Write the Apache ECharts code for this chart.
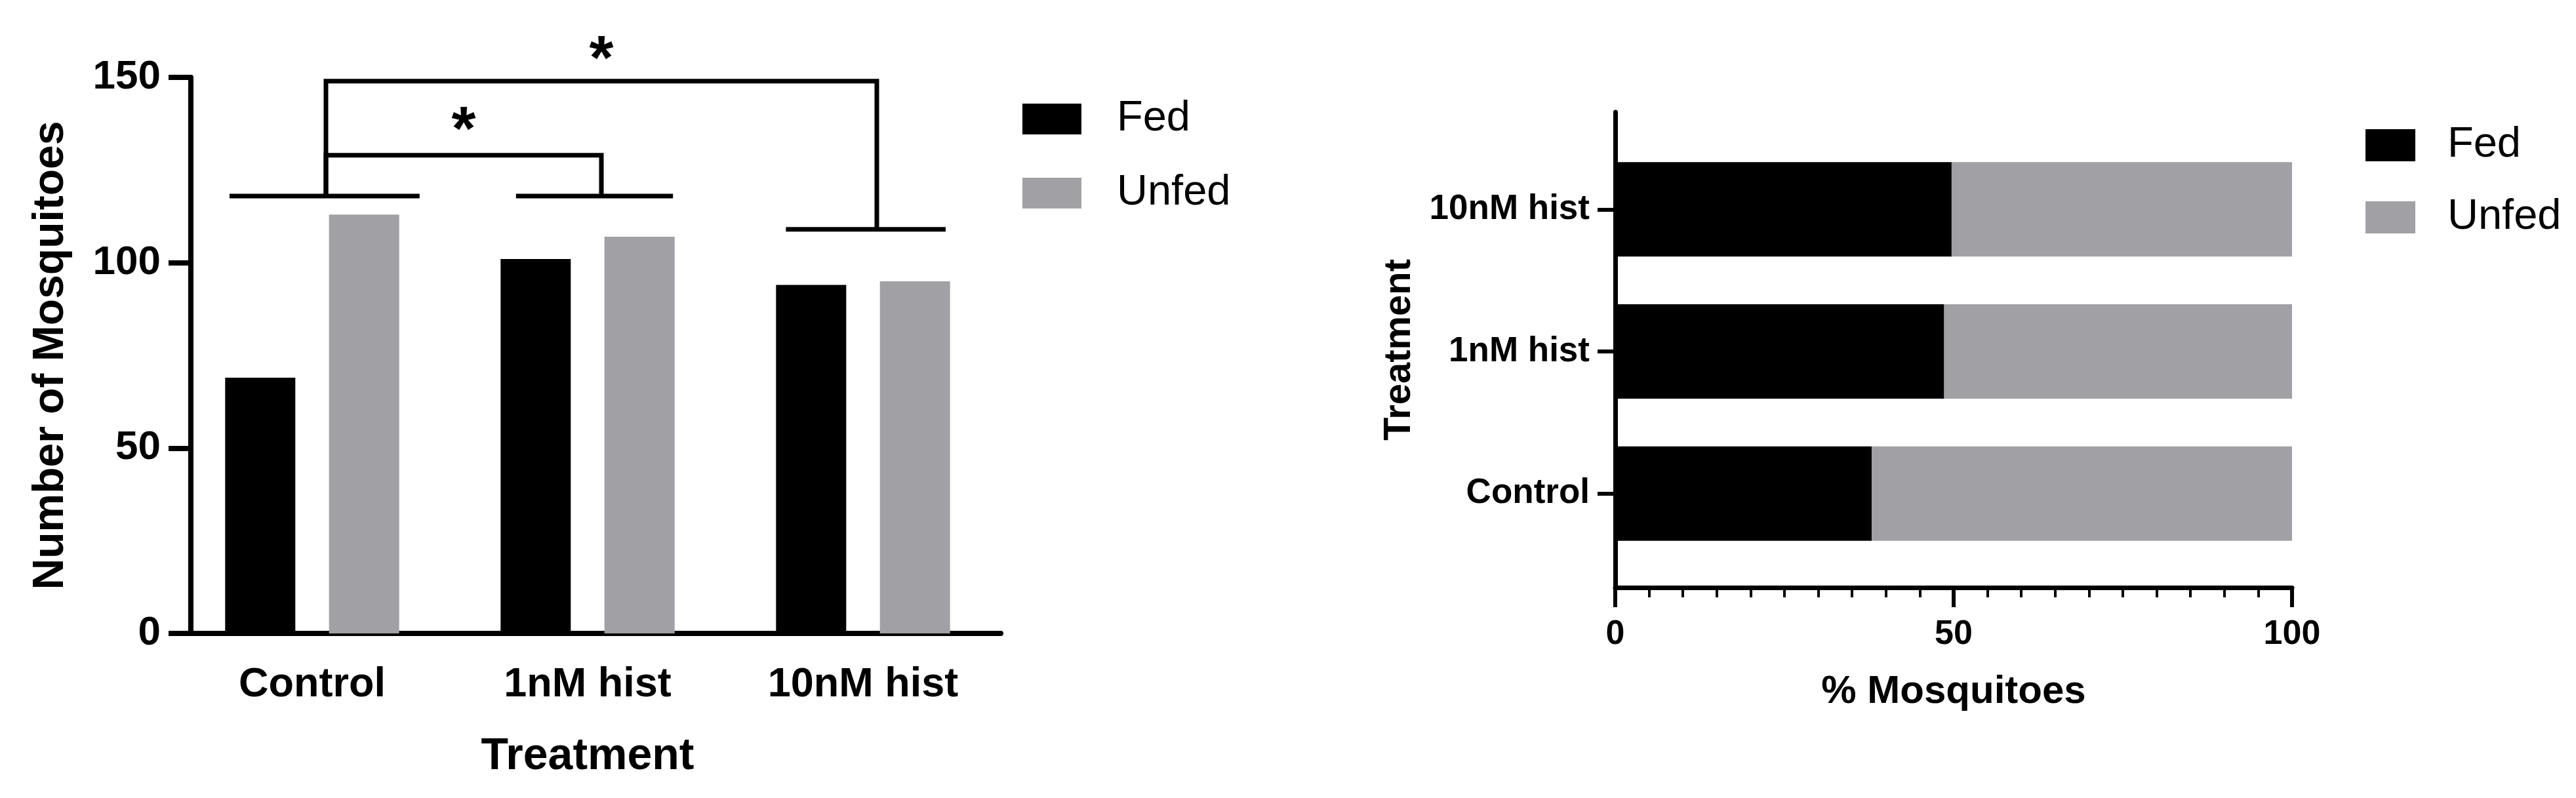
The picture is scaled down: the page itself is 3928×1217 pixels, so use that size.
<!DOCTYPE html>
<html>
<head>
<meta charset="utf-8">
<script src="https://cdn.jsdelivr.net/npm/echarts@6/dist/echarts.min.js"></script>
<style>
  html, body { margin: 0; padding: 0; background: #fff; }
  #chart { width: 3928px; height: 1217px; }
</style>
</head>
<body>
<div id="chart"></div>
<script>
  // data
  var treatments = ['Control', '1nM hist', '10nM hist'];
  var fedCount = [69, 101, 94];
  var unfedCount = [113, 107, 95];
  var fedPct = [37.9, 48.6, 49.7];
  var unfedPct = [62.1, 51.4, 50.3];
  var countTicks = [0, 50, 100, 150];
  var pctTicks = [0, 50, 100];
  // significance brackets: cap line height per group, [from, to, bracket top], star height
  var capLevel = [118, 118, 109];
  var comparisons = [[0, 1, 129], [0, 2, 149]];
  var starLevel = [138.7, 157.8];
  var starText = ['*', '*'];

  var FONT = 'Liberation Sans, Arial, sans-serif';
  var BLACK = '#000000';
  var GREY = '#a1a1a5';

  // cap spans in band units, left/right of the group centre
  var capSpan = [[-0.30, 0.39], [-0.26, 0.31], [-0.28, 0.30]];

  var myChart = echarts.init(document.getElementById('chart'));

  var option = {
    animation: false,
    backgroundColor: '#ffffff',
    legend: [
      {
        data: ['Fed', 'Unfed'],
        orient: 'vertical',
        left: 1554, top: 144,
        itemWidth: 90, itemHeight: 47, itemGap: 48,
        icon: 'rect',
        selectedMode: false,
        textStyle: { fontFamily: FONT, fontSize: 65, color: '#000', padding: [0, 0, 0, 49] }
      },
      {
        data: ['Fed', 'Unfed'],
        orient: 'vertical',
        left: 3602, top: 184,
        itemWidth: 76, itemHeight: 49, itemGap: 45,
        icon: 'rect',
        selectedMode: false,
        textStyle: { fontFamily: FONT, fontSize: 65, color: '#000', padding: [0, 0, 0, 44] }
      }
    ],
    grid: [
      { left: 266, right: 2402, top: 118, bottom: 251, outerBoundsMode: 'none' },
      { left: 2463, right: 433, top: 211, bottom: 356, outerBoundsMode: 'none' },
      { left: 2463, right: 433, top: 171, bottom: 321, outerBoundsMode: 'none' }
    ],
    xAxis: [
      {
        type: 'category', gridIndex: 0,
        data: treatments,
        axisLine: { lineStyle: { color: BLACK, width: 8 } },
        axisTick: { alignWithLabel: true, length: 36, lineStyle: { color: BLACK, width: 8 } },
        axisLabel: { margin: 47, fontFamily: FONT, fontSize: 63, fontWeight: 'bold', color: BLACK },
        name: 'Treatment', nameLocation: 'middle', nameGap: 154,
        nameTextStyle: { fontFamily: FONT, fontSize: 68, fontWeight: 'bold', color: BLACK }
      },
      {
        type: 'value', gridIndex: 1, min: 0, max: 100, show: false
      },
      {
        type: 'value', gridIndex: 2, min: pctTicks[0], max: pctTicks[pctTicks.length - 1], interval: 50,
        axisLine: { show: true, lineStyle: { color: BLACK, width: 7 } },
        axisTick: { show: true, length: 30, lineStyle: { color: BLACK, width: 6 } },
        minorTick: { show: true, splitNumber: 10, length: 15, lineStyle: { color: BLACK, width: 4 } },
        splitLine: { show: false },
        axisLabel: { margin: 46, fontFamily: FONT, fontSize: 52, fontWeight: 'bold', color: BLACK },
        name: '% Mosquitoes', nameLocation: 'middle', nameGap: 129,
        nameTextStyle: { fontFamily: FONT, fontSize: 60, fontWeight: 'bold', color: BLACK }
      }
    ],
    yAxis: [
      {
        type: 'value', gridIndex: 0, min: countTicks[0], max: countTicks[countTicks.length - 1], interval: 50,
        offset: -25,
        axisLine: { show: true, lineStyle: { color: BLACK, width: 8 } },
        axisTick: { show: true, length: 34, lineStyle: { color: BLACK, width: 8 } },
        splitLine: { show: false },
        axisLabel: { margin: 46, fontFamily: FONT, fontSize: 62, fontWeight: 'bold', color: BLACK },
        name: 'Number of Mosquitoes', nameLocation: 'middle', nameGap: 180,
        nameTextStyle: { fontFamily: FONT, fontSize: 66, fontWeight: 'bold', color: BLACK }
      },
      {
        type: 'category', gridIndex: 1,
        data: treatments,
        axisLine: { show: false },
        axisTick: { show: true, alignWithLabel: true, length: 27, lineStyle: { color: BLACK, width: 6 } },
        axisLabel: { margin: 39, fontFamily: FONT, fontSize: 53, fontWeight: 'bold', color: BLACK }
      },
      {
        type: 'value', gridIndex: 2, min: 0, max: 1,
        axisLine: { show: true, lineStyle: { color: BLACK, width: 7 } },
        axisTick: { show: false },
        axisLabel: { show: false },
        splitLine: { show: false },
        name: 'Treatment', nameLocation: 'middle', nameGap: 300,
        nameTextStyle: { fontFamily: FONT, fontSize: 58, fontWeight: 'bold', color: BLACK }
      }
    ],
    series: [
      {
        name: 'Fed', type: 'bar', xAxisIndex: 0, yAxisIndex: 0,
        data: fedCount, barWidth: 107, barGap: '48%',
        itemStyle: { color: BLACK }
      },
      {
        name: 'Unfed', type: 'bar', xAxisIndex: 0, yAxisIndex: 0,
        data: unfedCount, barWidth: 107, barGap: '48%',
        itemStyle: { color: GREY }
      },
      {
        name: 'Fed', type: 'bar', xAxisIndex: 1, yAxisIndex: 1,
        stack: 'pct', data: fedPct, barWidth: 144,
        itemStyle: { color: BLACK }
      },
      {
        name: 'Unfed', type: 'bar', xAxisIndex: 1, yAxisIndex: 1,
        stack: 'pct', data: unfedPct, barWidth: 144,
        itemStyle: { color: GREY }
      },
      { // cap lines over each group
        type: 'custom', xAxisIndex: 0, yAxisIndex: 0, silent: true,
        data: capLevel.map(function (v, i) { return [i, v]; }),
        renderItem: function (params, api) {
          var c = api.coord([api.value(0), api.value(1)]);
          var band = api.size([1, 0])[0];
          var s = capSpan[params.dataIndex];
          return {
            type: 'line',
            shape: { x1: c[0] + s[0] * band, y1: c[1], x2: c[0] + s[1] * band, y2: c[1] },
            style: { stroke: BLACK, lineWidth: 7 }
          };
        }
      },
      { // brackets with stars
        type: 'custom', xAxisIndex: 0, yAxisIndex: 0, silent: true,
        data: comparisons.map(function (c, k) {
          return [c[0], c[1], c[2], capLevel[c[0]], capLevel[c[1]], starLevel[k]];
        }),
        renderItem: function (params, api) {
          var band = api.size([1, 0])[0];
          var a = api.coord([api.value(0), api.value(3)]);
          var b = api.coord([api.value(1), api.value(4)]);
          var top = api.coord([api.value(0), api.value(2)])[1];
          var star = api.coord([api.value(0), api.value(5)])[1];
          var xa = a[0] + 0.05 * band;
          var xb = b[0] + 0.05 * band;
          return {
            type: 'group',
            children: [
              {
                type: 'polyline',
                shape: { points: [[xa, a[1]], [xa, top], [xb, top], [xb, b[1]]] },
                style: { stroke: BLACK, lineWidth: 7, fill: null, lineJoin: 'miter' }
              },
              {
                type: 'text',
                x: (xa + xb) / 2, y: star + 20,
                style: {
                  text: starText[params.dataIndex],
                  fontFamily: FONT, fontSize: 95, fontWeight: 'bold', fill: BLACK,
                  align: 'center', verticalAlign: 'middle'
                }
              }
            ]
          };
        }
      }
    ]
  };

  myChart.setOption(option);
</script>
</body>
</html>
